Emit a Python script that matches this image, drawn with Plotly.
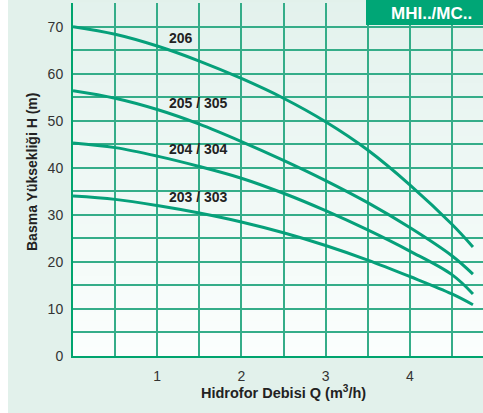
import plotly.graph_objects as go

# ---- data ----
flow_q = [0, 0.5, 1, 1.5, 2, 2.5, 3, 3.5, 4, 4.5, 4.75]
head_206 = [70, 68.4, 65.9, 62.7, 59.0, 54.8, 49.8, 43.8, 36.4, 28.0, 23.2]
head_205 = [56.4, 54.8, 52.4, 49.3, 45.6, 41.6, 37.3, 32.6, 27.3, 21.3, 17.4]
head_204 = [45.3, 44.3, 42.5, 40.3, 37.8, 34.6, 30.9, 26.8, 22.3, 17.3, 13.2]
head_203 = [34.0, 33.3, 32.0, 30.4, 28.5, 26.2, 23.5, 20.4, 16.9, 13.2, 10.9]
series_names = ["206", "205 / 305", "204 / 304", "203 / 303"]
label_q = [1.12, 1.12, 1.12, 1.12]
label_h = [67.7, 53.8, 44.0, 33.8]
x_ticks = [1, 2, 3, 4]
y_ticks = [0, 10, 20, 30, 40, 50, 60, 70]
badge_text = "MHI../MC.."

LINE = "#06a07a"
GRID = "#35ad89"
PAPER = "#e2f1eb"
FONT = "Liberation Sans, Arial, sans-serif"

W, H = 483, 413
ML, MR, MT, MB = 73, 0, 3, 57
PW, PH = W - ML - MR, H - MT - MB

fig = go.Figure()
for name, ys in zip(series_names, [head_206, head_205, head_204, head_203]):
    fig.add_trace(go.Scatter(x=flow_q, y=ys, mode="lines", name=name,
                             line=dict(color=LINE, width=3, shape="spline", smoothing=1.0),
                             hoverinfo="skip", showlegend=False))

for name, qx, hy in zip(series_names, label_q, label_h):
    fig.add_annotation(x=qx, y=hy, text=f"<b>{name}</b>", showarrow=False,
                       xanchor="left", yanchor="middle",
                       font=dict(family=FONT, size=14, color="#222222"))

shapes = []
# left white strip of the page
shapes.append(dict(type="rect", xref="paper", yref="paper",
                   x0=-ML / PW - 0.01, x1=(8 - ML) / PW, y0=-MB / PH - 0.05, y1=1 + MT / PH + 0.05,
                   fillcolor="white", line=dict(width=0), layer="below"))
# vertical gradient in the plot area (top mint to bottom near-white)
n = 40
c0 = (0xe3, 0xf2, 0xed)
c1 = (0xfb, 0xfe, 0xfd)
for i in range(n):
    t = i / (n - 1)
    col = tuple(round(c1[k] + (c0[k] - c1[k]) * t) for k in range(3))
    shapes.append(dict(type="rect", xref="paper", yref="paper",
                       x0=0, x1=1, y0=i / n, y1=(i + 1) / n + 0.002,
                       fillcolor="rgb(%d,%d,%d)" % col, line=dict(width=0), layer="below"))
# badge box top-right
shapes.append(dict(type="rect", xref="paper", yref="paper",
                   x0=(366 - ML) / PW, x1=1.01, y0=1 - (25 - MT) / PH, y1=1 + MT / PH + 0.01,
                   fillcolor="#00a676", line=dict(width=0), layer="above"))
fig.add_annotation(xref="paper", yref="paper", x=(431 - ML) / PW,
                   y=1 - (13 - MT) / PH, text=f"<b>{badge_text}</b>", showarrow=False,
                   xanchor="center", yanchor="middle",
                   font=dict(family=FONT, size=17, color="white"))

# axis titles
fig.add_annotation(xref="paper", yref="paper", x=(283 - ML) / PW, y=1 - (392 - MT) / PH,
                   text="<b>Hidrofor Debisi Q (m<sup>3</sup>/h)</b>", showarrow=False,
                   xanchor="center", yanchor="middle",
                   font=dict(family=FONT, size=14.5, color="#222222"))
fig.add_annotation(xref="paper", yref="paper", x=(32 - ML) / PW, y=1 - (172 - MT) / PH,
                   text="<b>Basma Yüksekliği H (m)</b>", showarrow=False, textangle=-90,
                   xanchor="center", yanchor="middle",
                   font=dict(family=FONT, size=14, color="#222222"))

fig.update_layout(
    width=W, height=H,
    margin=dict(l=ML, r=MR, t=MT, b=MB, pad=0),
    paper_bgcolor=PAPER, plot_bgcolor="rgba(0,0,0,0)",
    shapes=shapes,
    font=dict(family=FONT, size=13, color="#333333"),
    xaxis=dict(range=[0, (W - ML) / 84.2], tickvals=x_ticks, showgrid=True,
               gridcolor=GRID, gridwidth=1.5, zeroline=False,
               showline=True, linecolor="#00a46e", linewidth=2,
               ticks="", ticklabelstandoff=6,
               minor=dict(dtick=0.5, tick0=0, showgrid=True, gridcolor=GRID, gridwidth=1.5),
               tickfont=dict(size=14, color="#333333"), fixedrange=True),
    yaxis=dict(range=[0, 75.05], tickvals=y_ticks, showgrid=True,
               gridcolor=GRID, gridwidth=1.5, zeroline=False,
               showline=True, linecolor="#00a46e", linewidth=2,
               ticks="", ticklabelstandoff=5,
               minor=dict(dtick=5, tick0=0, showgrid=True, gridcolor=GRID, gridwidth=1.5),
               tickfont=dict(size=14, color="#333333"), fixedrange=True),
)

fig.write_html("out.html", config={"displayModeBar": False},
               post_script="document.body.style.margin='0';document.body.style.overflow='hidden';")
